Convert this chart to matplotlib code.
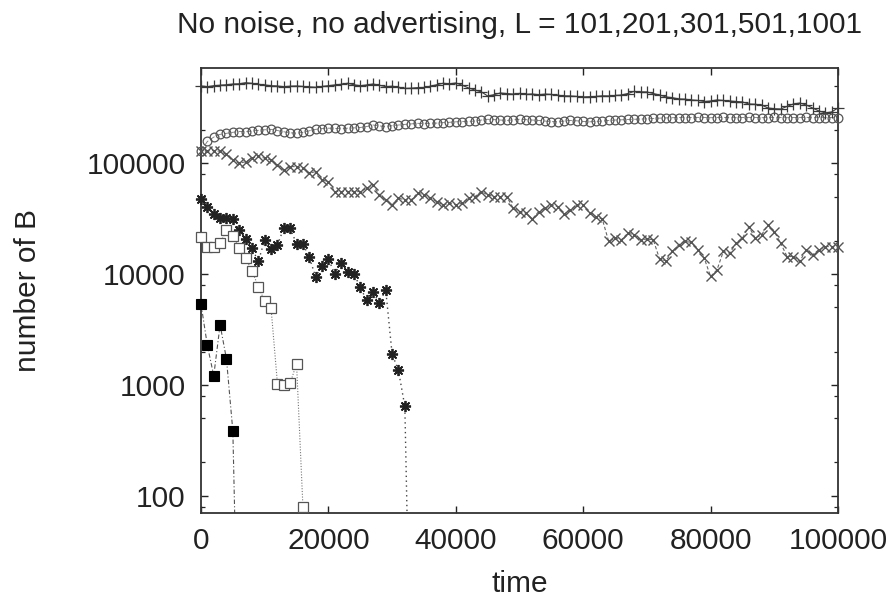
import numpy as np
import matplotlib
matplotlib.use('Agg')
import matplotlib.pyplot as plt
from matplotlib.ticker import FixedLocator, NullFormatter

plt.rcParams['font.family'] = ['Liberation Sans', 'DejaVu Sans']

title = "No noise, no advertising, L = 101,201,301,501,1001"
x_label = "time"
y_label = "number of B"
x_ticks = [0, 20000, 40000, 60000, 80000, 100000]
y_ticks = [100, 1000, 10000, 100000]

t_long = np.arange(0, 101000, 1000)

series_plus = [
    497000, 490000, 500000, 505000, 510000, 518000, 520000, 532000, 525000, 515000,
    508000, 500000, 497000, 490000, 495000, 497000, 492000, 488000, 484000, 492000,
    500000, 508000, 515000, 526000, 510000, 500000, 508000, 518000, 505000, 490000,
    495000, 485000, 472000, 475000, 480000, 482000, 495000, 510000, 526000, 520000,
    529000, 505000, 477000, 457000, 440000, 404000, 415000, 430000, 425000, 420000,
    426000, 418000, 421000, 415000, 420000, 417000, 410000, 405000, 404000, 400000,
    396000, 398000, 400000, 405000, 404000, 408000, 412000, 425000, 444000, 440000,
    439000, 425000, 412000, 396000, 390000, 380000, 378000, 372000, 368000, 360000,
    364000, 372000, 368000, 364000, 360000, 357000, 342000, 340000, 335000, 315000,
    310000, 308000, 325000, 342000, 349000, 335000, 315000, 296000, 284000, 290000,
    315000]

series_circle = [
    129000, 157000, 172000, 182000, 186000, 190000, 193000, 192000, 195000, 198000,
    200000, 202000, 197000, 192000, 188000, 186000, 190000, 196000, 202000, 205000,
    207000, 206000, 205000, 207000, 208000, 210000, 214000, 221000, 217000, 214000,
    218000, 221000, 224000, 226000, 229000, 228000, 229000, 230000, 232000, 234000,
    236000, 237000, 238000, 240000, 245000, 249000, 247000, 245000, 243000, 246000,
    249000, 247000, 245000, 243000, 240000, 237000, 236000, 240000, 243000, 241000,
    238000, 236000, 238000, 240000, 243000, 245000, 246000, 248000, 249000, 250000,
    251000, 253000, 255000, 256000, 257000, 258000, 257000, 258000, 259000, 258000,
    257000, 258000, 259000, 258000, 257000, 258000, 259000, 258000, 257000, 258000,
    259000, 258000, 257000, 258000, 258000, 259000, 258000, 257000, 258000, 258000,
    254000]

series_cross = [
    130000, 129000, 130000, 128000, 120000, 107000, 100000, 103000, 111000, 115000,
    111000, 107000, 96500, 87000, 93200, 93200, 90200, 81250, 84000, 70700,
    68300, 55500, 55500, 55500, 55500, 55500, 59500, 63800, 51800, 46700,
    42100, 48400, 46700, 46700, 53700, 51800, 48400, 45100, 42100, 43600,
    42100, 43600, 48400, 50000, 55500, 51800, 50000, 50000, 50000, 39300,
    36600, 35400, 31300, 36600, 39300, 42100, 40600, 34700, 37900, 42100,
    42100, 35400, 33000, 31300, 19700, 21100, 20400, 23400, 22600, 20400,
    20700, 20400, 13600, 13200, 16000, 18400, 19700, 19300, 16600, 13900,
    9520, 10900, 16000, 15400, 19000, 21100, 26800, 21100, 22600, 27700,
    24200, 19000, 14400, 14400, 13000, 16600, 14900, 16600, 17700, 17700,
    17500]

t_star = np.arange(0, 34000, 1000)
series_star = [
    47700, 39900, 34700, 32000, 32000, 31500, 24800, 20700, 17100, 13000,
    20400, 16800, 18400, 25900, 25900, 18700, 18700, 14200, 9400, 11900,
    13700, 10000, 12700, 10400, 10100, 7600, 5800, 6900, 5500, 7200,
    1900, 1350, 640, 1]

t_square = np.arange(0, 18000, 1000)
series_square = [
    21400, 17500, 17500, 19000, 24800, 22100, 17100, 13900, 10700, 7700,
    5700, 4900, 1030, 1000, 1040, 1550, 80, 1]

t_filled = np.arange(0, 7000, 1000)
series_filled = [5370, 2270, 1210, 3490, 1710, 383, 1]

y_min, y_max = 70, 722000
fs = 21.5

fig = plt.figure(figsize=(8.96, 6.06), dpi=100)
ax = fig.add_axes([201/896, 1 - 513/606, (838 - 201)/896, (513 - 68)/606])
ax.set_yscale('log')

def draw(t, v, marker, ms, mec, mfc, mew, ls, lc, lw):
    t = np.asarray(t, float)
    v = np.asarray(v, float)
    ax.plot(t, v, linestyle=ls, color=lc, lw=lw, marker='none', zorder=2)
    vm = np.ma.masked_less(v, y_min)
    ax.plot(t, vm, linestyle='none', marker=marker, ms=ms, mec=mec, mfc=mfc,
            mew=mew, clip_on=False, zorder=3)

draw(t_long, series_plus, '+', 8.5, '#3a3a3a', 'none', 0.9, '-', '#3a3a3a', 0.8)
draw(t_long, series_circle, 'o', 6.3, '#555555', 'none', 0.9, (0, (6, 3)), '#777777', 0.6)
draw(t_long, series_cross, 'x', 6.8, '#555555', 'none', 1.0, (0, (3, 2)), '#666666', 0.8)
draw(t_star, series_star, (8, 2, 0), 8.0, '#222222', 'none', 1.3, (0, (1, 2.5)), '#444444', 1.0)
draw(t_square, series_square, 's', 6.5, '#555555', 'white', 0.9, (0, (1, 1.5)), '#777777', 0.8)
draw(t_filled, series_filled, 's', 6.8, 'black', 'black', 0.8, (0, (4, 2, 1, 2)), '#555555', 0.8)

ax.set_xlim(0, 100000)
ax.set_ylim(y_min, y_max)

ax.xaxis.set_major_locator(FixedLocator(x_ticks))
ax.set_xticklabels([str(v) for v in x_ticks])
ax.yaxis.set_major_locator(FixedLocator(y_ticks))
ax.set_yticklabels([str(v) for v in y_ticks])
minor = [m * 10**e for e in range(1, 6) for m in (2, 5, 8)]
ax.yaxis.set_minor_locator(FixedLocator(minor))
ax.yaxis.set_minor_formatter(NullFormatter())
ax.xaxis.set_minor_locator(FixedLocator([]))

ax.tick_params(which='both', direction='in', top=True, right=True,
               labelsize=fs, colors='#222222')
ax.tick_params(which='major', length=5, width=1.0)
ax.tick_params(which='minor', length=2.8, width=0.9)
ax.tick_params(axis='y', pad=11)
ax.tick_params(axis='x', pad=10)

for s in ax.spines.values():
    s.set_linewidth(1.3)
    s.set_color('#333333')

ax.set_title(title, fontsize=fs, pad=25, color='#222222')
ax.set_xlabel(x_label, fontsize=fs, color='#222222', labelpad=11)
ax.set_ylabel(y_label, fontsize=fs, color='#222222', labelpad=32)

fig.savefig('out.png', dpi=100)
